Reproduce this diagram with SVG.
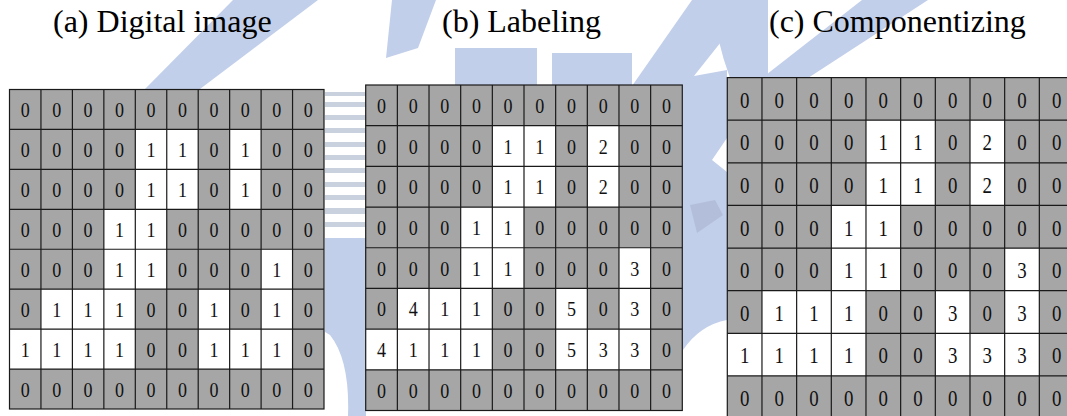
<svg xmlns="http://www.w3.org/2000/svg" width="1067" height="416" viewBox="0 0 1067 416">
<style>
.t{font-family:"Liberation Serif","Times New Roman",serif;font-size:32px;fill:#000}
.d{font-family:"Liberation Serif","Times New Roman",serif;font-size:22px;fill:#111;text-anchor:middle}
.bg{fill:#a6a6a6}
.w{fill:#fff}
.ln{stroke:#1a1a1a;stroke-width:1.2;fill:none}
.wm{fill:#c2cfea}
.st{fill:#cad1de}
</style>
<rect width="1067" height="416" fill="#fff"/>
<g id="watermark">
<polygon class="wm" points="233,0 318,0 200,89 145,89"/>
<polygon class="wm" points="392,0 436,0 418,48 386,58"/>
<rect class="wm" x="455" y="48" width="82" height="40"/>
<rect class="wm" x="552" y="53" width="80" height="35"/>
<polygon class="wm" points="692,0 740,0 740,18 686,86 632,86"/>
<polygon class="wm" points="862,0 928,0 808,78 762,78"/>
<path class="wm" d="M712,0 L768,0 L768,78 L730,78 Q716,40 712,0 Z"/>
<g class="st">
<rect x="325" y="92" width="41" height="4"/>
<rect x="325" y="102" width="41" height="5"/>
<rect x="325" y="115" width="41" height="5"/>
<rect x="325" y="128" width="41" height="5"/>
<rect x="325" y="142" width="41" height="5"/>
<rect x="325" y="155" width="41" height="5"/>
<rect x="325" y="168" width="41" height="5"/>
<rect x="325" y="182" width="41" height="5"/>
<rect x="325" y="195" width="41" height="5"/>
<rect x="325" y="208" width="41" height="6"/>
<rect x="325" y="222" width="41" height="5"/>
</g>
<path class="wm" d="M325,238 L366,238 L366,416 L348,416 Q350,360 330,335 L325,332 Z"/>
<path class="wm" d="M683,78 L727,70 L727,138 L712,160 L727,172 L727,320 Q700,325 683,350 Z"/>
<polygon fill="#b3bfda" points="690,205 715,200 723,215 697,233"/>
</g>
<g id="title-a"><text class="t" x="53" y="32">(a) Digital image</text></g>
<g id="title-b"><text class="t" x="442" y="32">(b) Labeling</text></g>
<g id="title-c"><text class="t" x="769" y="32">(c) Componentizing</text></g>
<g id="grid-a" transform="translate(9.5,89.5)">
<rect class="bg" width="314.5" height="319.5"/>
<g class="w">
<rect x="125.8" y="39.94" width="62.9" height="79.9"/><rect x="220.15" y="39.94" width="31.45" height="79.9"/>
<rect x="94.35" y="119.8" width="62.9" height="79.9"/><rect x="251.6" y="159.75" width="31.45" height="119.82"/>
<rect x="31.45" y="199.7" width="94.35" height="39.95"/><rect x="0" y="239.6" width="125.8" height="39.95"/>
<rect x="188.7" y="199.7" width="31.45" height="79.9"/><rect x="220.15" y="239.6" width="31.45" height="39.95"/>
</g>
<path class="ln" d="M31.45,0V319.5M62.9,0V319.5M94.35,0V319.5M125.8,0V319.5M157.25,0V319.5M188.7,0V319.5M220.15,0V319.5M251.6,0V319.5M283.05,0V319.5M0,39.94H314.5M0,79.88H314.5M0,119.81H314.5M0,159.75H314.5M0,199.69H314.5M0,239.63H314.5M0,279.56H314.5"/>
<rect class="ln" width="314.5" height="319.5" stroke-width="1.6"/>
</g>
<g id="grid-b" transform="translate(365.7,85)">
<rect class="bg" width="316.6" height="325.5"/>
<g class="w">
<rect x="126.64" y="40.69" width="63.32" height="81.38"/><rect x="221.62" y="40.69" width="31.66" height="81.38"/>
<rect x="94.98" y="122.06" width="63.32" height="81.38"/><rect x="253.28" y="162.75" width="31.66" height="122.07"/>
<rect x="31.66" y="203.44" width="94.98" height="40.69"/><rect x="0" y="244.13" width="126.64" height="40.69"/>
<rect x="189.96" y="203.44" width="31.66" height="81.38"/><rect x="221.62" y="244.13" width="31.66" height="40.69"/>
</g>
<path class="ln" d="M31.66,0V325.5M63.32,0V325.5M94.98,0V325.5M126.64,0V325.5M158.3,0V325.5M189.96,0V325.5M221.62,0V325.5M253.28,0V325.5M284.94,0V325.5M0,40.69H316.6M0,81.38H316.6M0,122.06H316.6M0,162.75H316.6M0,203.44H316.6M0,244.13H316.6M0,284.81H316.6"/>
<rect class="ln" width="316.6" height="325.5" stroke-width="1.6"/>
</g>
<g id="grid-c" transform="translate(727.3,77.6)">
<rect class="bg" width="346.7" height="341"/>
<g class="w">
<rect x="138.68" y="42.62" width="69.34" height="85.25"/><rect x="242.69" y="42.62" width="34.67" height="85.25"/>
<rect x="104.01" y="127.87" width="69.34" height="85.25"/><rect x="277.36" y="170.5" width="34.67" height="127.87"/>
<rect x="34.67" y="213.12" width="104.01" height="42.62"/><rect x="0" y="255.75" width="138.68" height="42.62"/>
<rect x="208.02" y="213.12" width="34.67" height="85.25"/><rect x="242.69" y="255.75" width="34.67" height="42.62"/>
</g>
<path class="ln" d="M34.67,0V341M69.34,0V341M104.01,0V341M138.68,0V341M173.35,0V341M208.02,0V341M242.69,0V341M277.36,0V341M312.03,0V341M0,42.62H346.7M0,85.25H346.7M0,127.87H346.7M0,170.5H346.7M0,213.12H346.7M0,255.75H346.7M0,298.37H346.7"/>
<rect class="ln" width="346.7" height="341" stroke-width="1.6"/>
</g>
<g id="digits-a" class="d" transform="translate(9.5,0) scale(0.82,1)">
<text y="117"><tspan x="19.2">0</tspan><tspan x="57.5">0</tspan><tspan x="95.9">0</tspan><tspan x="134.2">0</tspan><tspan x="172.6">0</tspan><tspan x="210.9">0</tspan><tspan x="249.3">0</tspan><tspan x="287.6">0</tspan><tspan x="326">0</tspan><tspan x="364.3">0</tspan></text>
<text y="157"><tspan x="19.2">0</tspan><tspan x="57.5">0</tspan><tspan x="95.9">0</tspan><tspan x="134.2">0</tspan><tspan x="172.6">1</tspan><tspan x="210.9">1</tspan><tspan x="249.3">0</tspan><tspan x="287.6">1</tspan><tspan x="326">0</tspan><tspan x="364.3">0</tspan></text>
<text y="197"><tspan x="19.2">0</tspan><tspan x="57.5">0</tspan><tspan x="95.9">0</tspan><tspan x="134.2">0</tspan><tspan x="172.6">1</tspan><tspan x="210.9">1</tspan><tspan x="249.3">0</tspan><tspan x="287.6">1</tspan><tspan x="326">0</tspan><tspan x="364.3">0</tspan></text>
<text y="237"><tspan x="19.2">0</tspan><tspan x="57.5">0</tspan><tspan x="95.9">0</tspan><tspan x="134.2">1</tspan><tspan x="172.6">1</tspan><tspan x="210.9">0</tspan><tspan x="249.3">0</tspan><tspan x="287.6">0</tspan><tspan x="326">0</tspan><tspan x="364.3">0</tspan></text>
<text y="277"><tspan x="19.2">0</tspan><tspan x="57.5">0</tspan><tspan x="95.9">0</tspan><tspan x="134.2">1</tspan><tspan x="172.6">1</tspan><tspan x="210.9">0</tspan><tspan x="249.3">0</tspan><tspan x="287.6">0</tspan><tspan x="326">1</tspan><tspan x="364.3">0</tspan></text>
<text y="317"><tspan x="19.2">0</tspan><tspan x="57.5">1</tspan><tspan x="95.9">1</tspan><tspan x="134.2">1</tspan><tspan x="172.6">0</tspan><tspan x="210.9">0</tspan><tspan x="249.3">1</tspan><tspan x="287.6">0</tspan><tspan x="326">1</tspan><tspan x="364.3">0</tspan></text>
<text y="357"><tspan x="19.2">1</tspan><tspan x="57.5">1</tspan><tspan x="95.9">1</tspan><tspan x="134.2">1</tspan><tspan x="172.6">0</tspan><tspan x="210.9">0</tspan><tspan x="249.3">1</tspan><tspan x="287.6">1</tspan><tspan x="326">1</tspan><tspan x="364.3">0</tspan></text>
<text y="397"><tspan x="19.2">0</tspan><tspan x="57.5">0</tspan><tspan x="95.9">0</tspan><tspan x="134.2">0</tspan><tspan x="172.6">0</tspan><tspan x="210.9">0</tspan><tspan x="249.3">0</tspan><tspan x="287.6">0</tspan><tspan x="326">0</tspan><tspan x="364.3">0</tspan></text>
</g>
<g id="digits-b" class="d" transform="translate(365.7,0) scale(0.82,1)">
<text y="113"><tspan x="19.3">0</tspan><tspan x="57.9">0</tspan><tspan x="96.5">0</tspan><tspan x="135.1">0</tspan><tspan x="173.7">0</tspan><tspan x="212.3">0</tspan><tspan x="251">0</tspan><tspan x="289.6">0</tspan><tspan x="328.2">0</tspan><tspan x="366.8">0</tspan></text>
<text y="154"><tspan x="19.3">0</tspan><tspan x="57.9">0</tspan><tspan x="96.5">0</tspan><tspan x="135.1">0</tspan><tspan x="173.7">1</tspan><tspan x="212.3">1</tspan><tspan x="251">0</tspan><tspan x="289.6">2</tspan><tspan x="328.2">0</tspan><tspan x="366.8">0</tspan></text>
<text y="194"><tspan x="19.3">0</tspan><tspan x="57.9">0</tspan><tspan x="96.5">0</tspan><tspan x="135.1">0</tspan><tspan x="173.7">1</tspan><tspan x="212.3">1</tspan><tspan x="251">0</tspan><tspan x="289.6">2</tspan><tspan x="328.2">0</tspan><tspan x="366.8">0</tspan></text>
<text y="235"><tspan x="19.3">0</tspan><tspan x="57.9">0</tspan><tspan x="96.5">0</tspan><tspan x="135.1">1</tspan><tspan x="173.7">1</tspan><tspan x="212.3">0</tspan><tspan x="251">0</tspan><tspan x="289.6">0</tspan><tspan x="328.2">0</tspan><tspan x="366.8">0</tspan></text>
<text y="276"><tspan x="19.3">0</tspan><tspan x="57.9">0</tspan><tspan x="96.5">0</tspan><tspan x="135.1">1</tspan><tspan x="173.7">1</tspan><tspan x="212.3">0</tspan><tspan x="251">0</tspan><tspan x="289.6">0</tspan><tspan x="328.2">3</tspan><tspan x="366.8">0</tspan></text>
<text y="316"><tspan x="19.3">0</tspan><tspan x="57.9">4</tspan><tspan x="96.5">1</tspan><tspan x="135.1">1</tspan><tspan x="173.7">0</tspan><tspan x="212.3">0</tspan><tspan x="251">5</tspan><tspan x="289.6">0</tspan><tspan x="328.2">3</tspan><tspan x="366.8">0</tspan></text>
<text y="357"><tspan x="19.3">4</tspan><tspan x="57.9">1</tspan><tspan x="96.5">1</tspan><tspan x="135.1">1</tspan><tspan x="173.7">0</tspan><tspan x="212.3">0</tspan><tspan x="251">5</tspan><tspan x="289.6">3</tspan><tspan x="328.2">3</tspan><tspan x="366.8">0</tspan></text>
<text y="398"><tspan x="19.3">0</tspan><tspan x="57.9">0</tspan><tspan x="96.5">0</tspan><tspan x="135.1">0</tspan><tspan x="173.7">0</tspan><tspan x="212.3">0</tspan><tspan x="251">0</tspan><tspan x="289.6">0</tspan><tspan x="328.2">0</tspan><tspan x="366.8">0</tspan></text>
</g>
<g id="digits-c" class="d" transform="translate(727.3,0) scale(0.82,1)" style="font-size:23px">
<text y="108"><tspan x="21.1">0</tspan><tspan x="63.4">0</tspan><tspan x="105.7">0</tspan><tspan x="148">0</tspan><tspan x="190.3">0</tspan><tspan x="232.5">0</tspan><tspan x="274.8">0</tspan><tspan x="317.1">0</tspan><tspan x="359.4">0</tspan><tspan x="401.7">0</tspan></text>
<text y="150.5"><tspan x="21.1">0</tspan><tspan x="63.4">0</tspan><tspan x="105.7">0</tspan><tspan x="148">0</tspan><tspan x="190.3">1</tspan><tspan x="232.5">1</tspan><tspan x="274.8">0</tspan><tspan x="317.1">2</tspan><tspan x="359.4">0</tspan><tspan x="401.7">0</tspan></text>
<text y="193"><tspan x="21.1">0</tspan><tspan x="63.4">0</tspan><tspan x="105.7">0</tspan><tspan x="148">0</tspan><tspan x="190.3">1</tspan><tspan x="232.5">1</tspan><tspan x="274.8">0</tspan><tspan x="317.1">2</tspan><tspan x="359.4">0</tspan><tspan x="401.7">0</tspan></text>
<text y="236"><tspan x="21.1">0</tspan><tspan x="63.4">0</tspan><tspan x="105.7">0</tspan><tspan x="148">1</tspan><tspan x="190.3">1</tspan><tspan x="232.5">0</tspan><tspan x="274.8">0</tspan><tspan x="317.1">0</tspan><tspan x="359.4">0</tspan><tspan x="401.7">0</tspan></text>
<text y="278.5"><tspan x="21.1">0</tspan><tspan x="63.4">0</tspan><tspan x="105.7">0</tspan><tspan x="148">1</tspan><tspan x="190.3">1</tspan><tspan x="232.5">0</tspan><tspan x="274.8">0</tspan><tspan x="317.1">0</tspan><tspan x="359.4">3</tspan><tspan x="401.7">0</tspan></text>
<text y="321"><tspan x="21.1">0</tspan><tspan x="63.4">1</tspan><tspan x="105.7">1</tspan><tspan x="148">1</tspan><tspan x="190.3">0</tspan><tspan x="232.5">0</tspan><tspan x="274.8">3</tspan><tspan x="317.1">0</tspan><tspan x="359.4">3</tspan><tspan x="401.7">0</tspan></text>
<text y="363.5"><tspan x="21.1">1</tspan><tspan x="63.4">1</tspan><tspan x="105.7">1</tspan><tspan x="148">1</tspan><tspan x="190.3">0</tspan><tspan x="232.5">0</tspan><tspan x="274.8">3</tspan><tspan x="317.1">3</tspan><tspan x="359.4">3</tspan><tspan x="401.7">0</tspan></text>
<text y="406"><tspan x="21.1">0</tspan><tspan x="63.4">0</tspan><tspan x="105.7">0</tspan><tspan x="148">0</tspan><tspan x="190.3">0</tspan><tspan x="232.5">0</tspan><tspan x="274.8">0</tspan><tspan x="317.1">0</tspan><tspan x="359.4">0</tspan><tspan x="401.7">0</tspan></text>
</g>
</svg>
